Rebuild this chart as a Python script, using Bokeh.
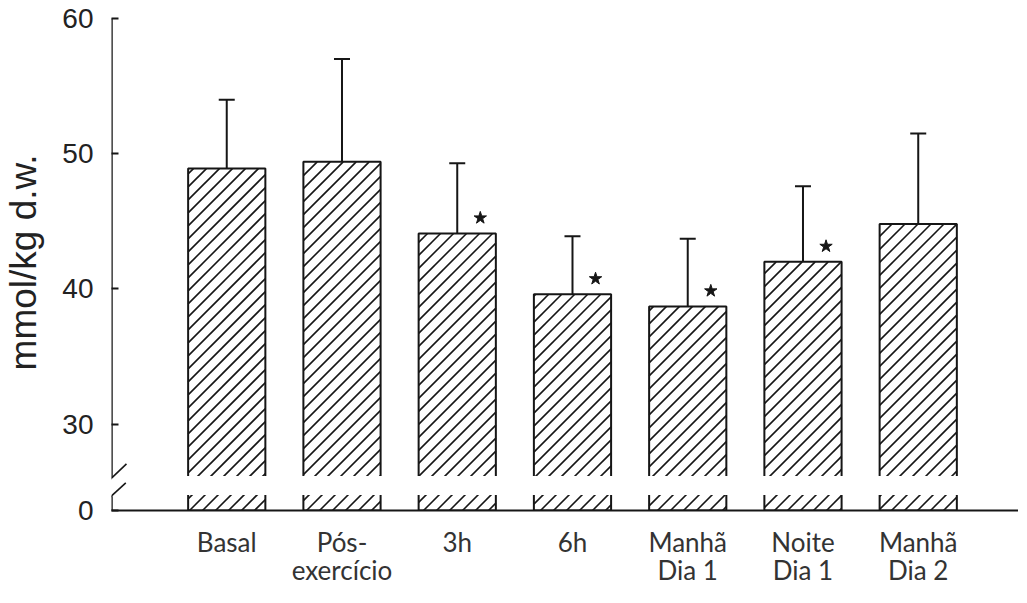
import math
from bokeh.plotting import figure
from bokeh.models import Range1d, FixedTicker, Whisker, ColumnDataSource, TeeHead, Arrow, BoxAnnotation
from bokeh.embed import file_html
from bokeh.resources import INLINE

# ---- data ----
categories = ["Basal", "Pós-\nexercício", "3h", "6h", "Manhã\nDia 1", "Noite\nDia 1", "Manhã\nDia 2"]
means = [48.9, 49.4, 44.1, 39.6, 38.7, 42.0, 44.8]
sds = [5.1, 7.6, 5.2, 4.3, 5.0, 5.6, 6.7]
significant = [False, False, True, True, True, True, False]
y_ticks = [30, 40, 50, 60]
y_label = "mmol/kg d.w."

# broken axis: the value 0 is drawn just below the break
AXIS_ZERO = 23.6
BREAK_LO, BREAK_HI = 24.75, 26.15
X_START, X_END = -1.0, 6.87
Y_END = 60.30
FRAME_W, FRAME_H = 907, 496
BAR_W = 0.67
HATCH_SPACING = 13.0   # px between hatch lines (horizontally)
INK = "#161616"

xs = list(range(len(categories)))
src = ColumnDataSource(dict(
    x=xs,
    top=means,
    upper=[m + s for m, s in zip(means, sds)],
))

p = figure(frame_width=FRAME_W, frame_height=FRAME_H,
           x_range=Range1d(X_START, X_END), y_range=Range1d(AXIS_ZERO, Y_END),
           output_backend="svg", toolbar_location=None,
           min_border_left=104, min_border_right=0, min_border_top=14, min_border_bottom=77)
p.grid.visible = False
p.outline_line_color = None
p.background_fill_color = "white"
p.border_fill_color = "white"

# bar bodies
p.vbar(x="x", top="top", bottom=AXIS_ZERO, width=BAR_W, source=src,
       fill_color="white", line_color=None)

# 45 degree "/" hatching inside each bar, derived from the bar extents
px_x = FRAME_W / (X_END - X_START)
px_y = FRAME_H / (Y_END - AXIS_ZERO)
hx0, hy0, hx1, hy1 = [], [], [], []
for x, m in zip(xs, means):
    uL = (x - BAR_W / 2 - X_START) * px_x
    uR = (x + BAR_W / 2 - X_START) * px_x
    vB, vT = 0.0, (m - AXIS_ZERO) * px_y
    k0 = math.ceil((vB - uR) / HATCH_SPACING)
    k1 = math.floor((vT - uL) / HATCH_SPACING)
    for k in range(k0, k1 + 1):
        c = k * HATCH_SPACING
        u0, u1 = max(uL, vB - c), min(uR, vT - c)
        if u1 - u0 > 0.8:
            hx0.append(X_START + u0 / px_x)
            hy0.append(AXIS_ZERO + (u0 + c) / px_y)
            hx1.append(X_START + u1 / px_x)
            hy1.append(AXIS_ZERO + (u1 + c) / px_y)
p.segment(x0=hx0, y0=hy0, x1=hx1, y1=hy1, line_color=INK, line_width=1.6)

# bar outlines
p.vbar(x="x", top="top", bottom=AXIS_ZERO, width=BAR_W, source=src,
       fill_color=None, line_color=INK, line_width=2)

# white gap of the axis break through the bars
p.add_layout(BoxAnnotation(bottom=BREAK_LO, top=BREAK_HI, fill_color="white", fill_alpha=1.0,
                           line_color=None))

# upper error bars
p.add_layout(Whisker(source=src, base="x", lower="top", upper="upper", dimension="height",
                     line_color=INK, line_width=2, lower_head=None,
                     upper_head=TeeHead(size=16, line_color=INK, line_width=2)))

# significance marks
sx = [x + 0.2 for x, s in zip(xs, significant) if s]
sy = [m + 1.15 for m, s in zip(means, significant) if s]
p.scatter(x=sx, y=sy, marker="star", size=13, fill_color=INK, line_color=INK)

# y axis line drawn in two pieces with break marks
for y0, y1 in [(26.05, 60), (AXIS_ZERO, 24.65)]:
    p.add_layout(Arrow(x_start=X_START, y_start=y0, x_end=X_START, y_end=y1,
                       start=None, end=None, line_color=INK, line_width=2.5))
for (xa, ya, xb, yb) in [(-1.10, 25.18, -0.87, 27.05), (-1.11, 23.82, -0.876, 25.65)]:
    p.add_layout(Arrow(x_start=xa, y_start=ya, x_end=xb, y_end=yb,
                       start=None, end=None, line_color=INK, line_width=1.6))

yax = p.yaxis[0]
yax.ticker = FixedTicker(ticks=[AXIS_ZERO] + y_ticks)
yax.major_label_overrides = {AXIS_ZERO: "0"}
yax.axis_line_color = None
yax.major_tick_in = 7
yax.major_tick_out = 0
yax.minor_tick_in = 0
yax.minor_tick_out = 0
yax.major_tick_line_width = 2
yax.major_tick_line_color = INK
yax.minor_tick_line_color = None
yax.major_label_text_font = "Liberation Sans"
yax.major_label_text_font_size = "28px"
yax.major_label_text_color = "#222222"
yax.major_label_standoff = 18
yax.axis_label = y_label
yax.axis_label_text_font = "Liberation Sans"
yax.axis_label_text_font_size = "37px"
yax.axis_label_text_font_style = "normal"
yax.axis_label_text_color = "#222222"
yax.axis_label_standoff = 15

xax = p.xaxis[0]
xax.ticker = FixedTicker(ticks=xs)
xax.major_label_overrides = {i: c for i, c in enumerate(categories)}
xax.axis_line_color = INK
xax.axis_line_width = 2
xax.major_tick_in = 0
xax.major_tick_out = 0
xax.minor_tick_in = 0
xax.minor_tick_out = 0
xax.major_tick_line_color = None
xax.minor_tick_line_color = None
xax.major_label_text_font = "Lato"
xax.major_label_text_font_size = "26px"
xax.major_label_text_color = "#333333"
xax.major_label_text_line_height = 0.9
xax.major_label_standoff = 15

open("out.html", "w").write(file_html(p, INLINE))
